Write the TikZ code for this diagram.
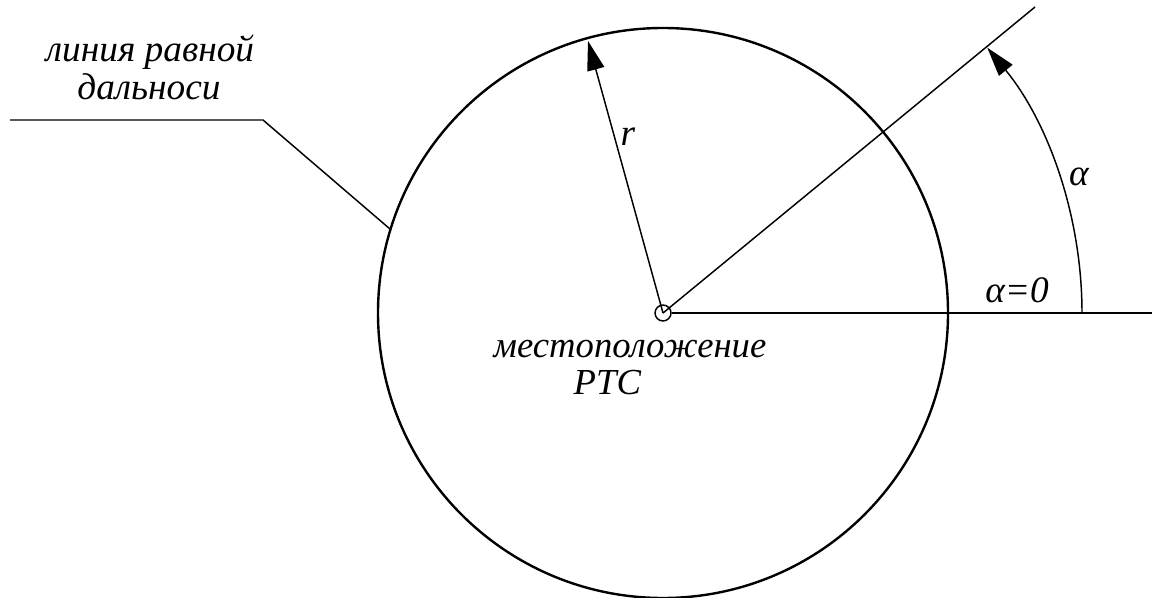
\documentclass[tikz,border=0pt]{standalone}
\usepackage{fontspec}
\setmainfont{Liberation Serif}[ItalicFont={Liberation Serif Italic}]
\usetikzlibrary{arrows.meta}
\begin{document}
\begin{tikzpicture}[x=0.75pt,y=-0.75pt,
  thin line/.style={line width=1.1pt},
  thick line/.style={line width=1.8pt},
  lbl/.style={font=\itshape\fontsize{28}{32}\selectfont, anchor=base, inner sep=0pt},
  arr/.style={-{Triangle[length=22pt,width=13pt]}}]
\useasboundingbox (0,0) rectangle (1152,598);
\coordinate (O) at (663,313);
\draw[thick line] (O) circle[radius=285];
\node[draw, circle, thin line, minimum size=12pt, inner sep=0pt] (c0) at (O) {};
% horizontal reference
\coordinate (hr) at (1152,313);
\draw[thin line] (c0.east) -- (hr);
% ray
\coordinate (rayend) at (1035,7);
\draw[thin line] (O) -- (rayend);
% radius arrow
\coordinate (rtip) at (588,41);
\draw[thin line, arr] (O) -- (rtip);
% angle arc
\coordinate (arcstart) at (1082,313);
\draw[thin line, arr] (arcstart) arc[start angle=0, end angle=39.3, radius=314.25pt];
% leader line
\coordinate (l1) at (10,120);
\coordinate (l2) at (263,120);
\coordinate (l3) at (390,229);
\draw[thin line] (l1) -- (l2) -- (l3);
% labels
\node[lbl] (t1) at (150,62) {линия равной};
\node[lbl] (t2) at (149,100) {дальноси};
\node[lbl, align=center, font=\itshape\fontsize{27.5}{27.5}\selectfont] (t3) at (630,394) {местоположение\\\hspace*{-34pt}PTC};
\node[lbl] (tr) at (628,146) {r};
\node[lbl] (ta) at (1079,186) {α};
\node[lbl] (ta0) at (1017,303) {α=0};
\end{tikzpicture}
\end{document}
